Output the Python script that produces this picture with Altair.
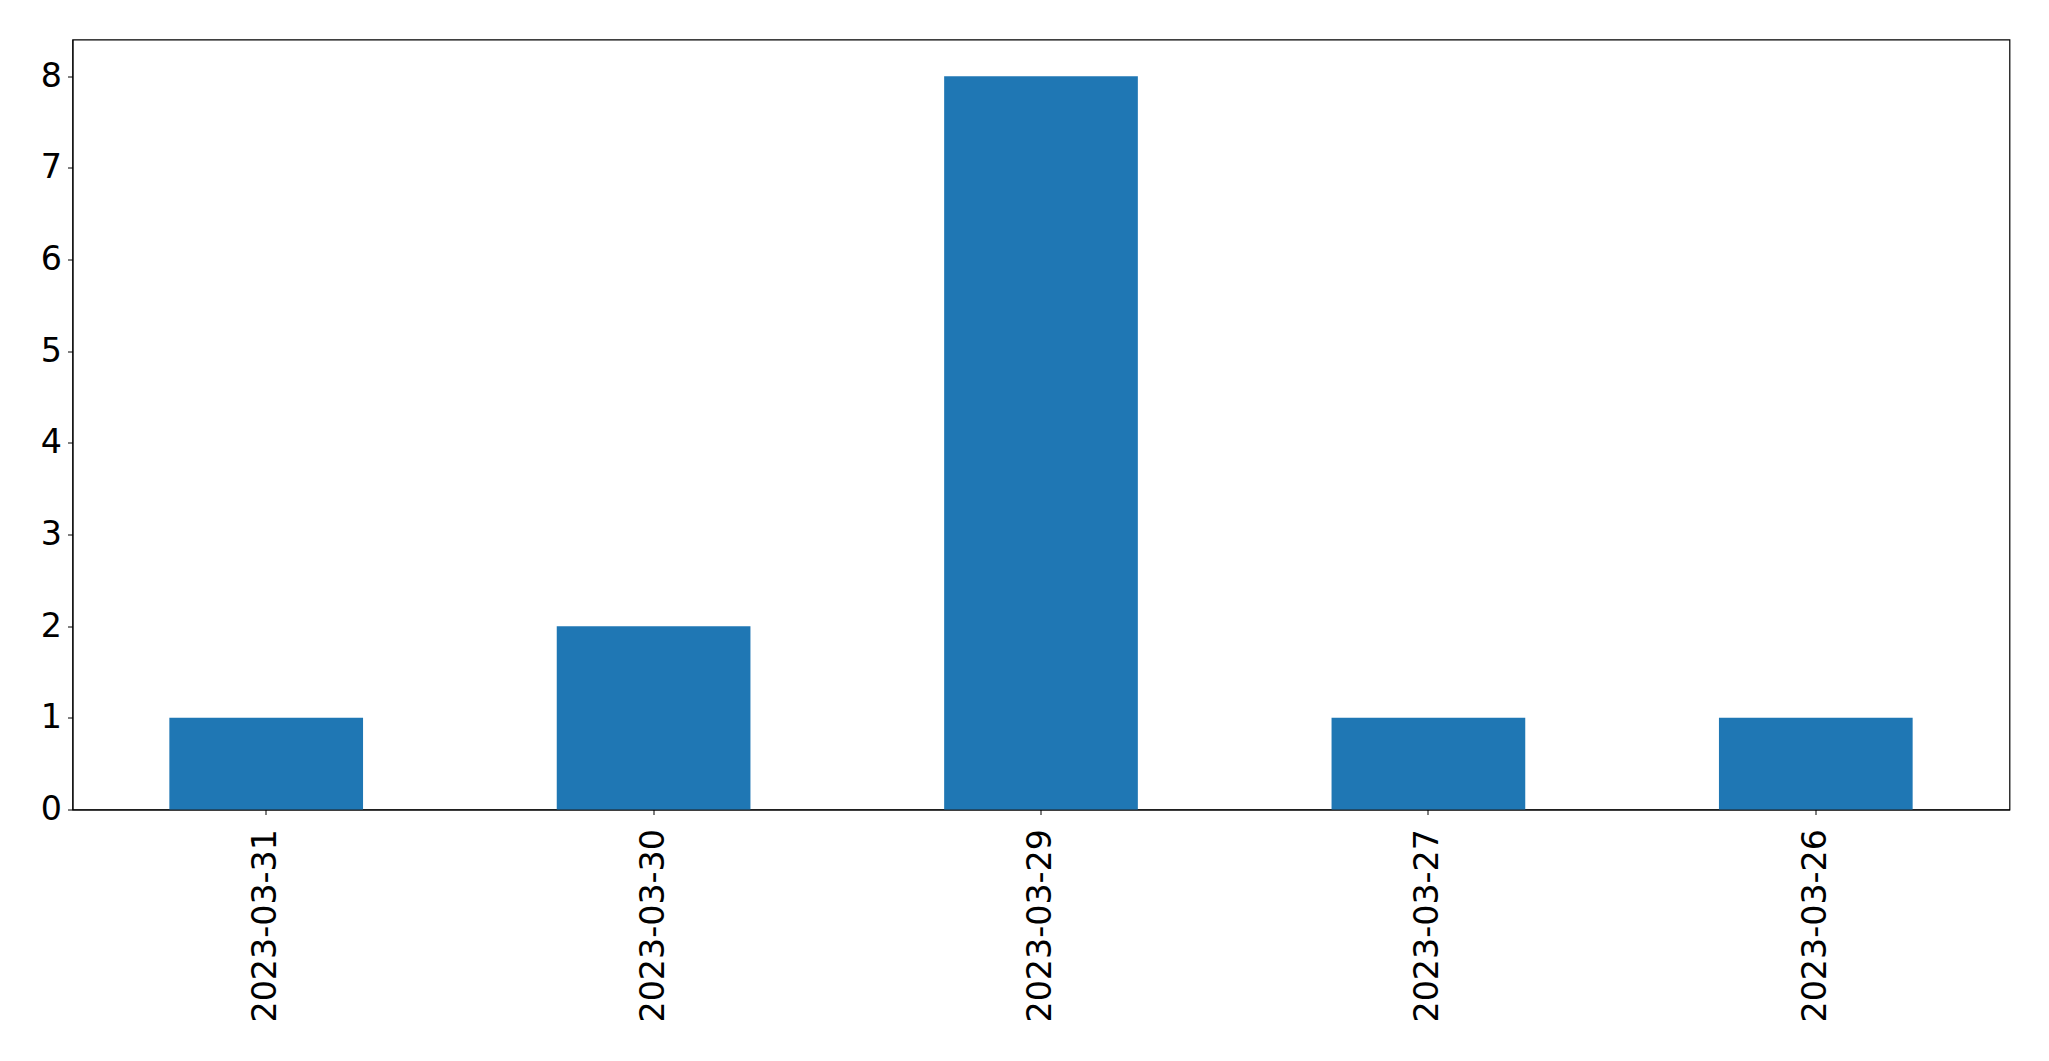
import altair as alt
import pandas as pd

dates = ["2023-03-31", "2023-03-30", "2023-03-29", "2023-03-27", "2023-03-26"]
counts = [1, 2, 8, 1, 1]

df = pd.DataFrame({"date": dates, "count": counts})

chart = alt.Chart(df).mark_bar(color="#1f77b4").encode(
    x=alt.X("date:N", sort=None, title=None,
            scale=alt.Scale(paddingInner=0.5, paddingOuter=0.25),
            axis=alt.Axis(labelAngle=270, labelAlign="right", labelBaseline="middle",
                          labelPadding=14, tickSize=5, labelFontSize=33.3, labelLimit=1000,
                          labelFont="DejaVu Sans", labelColor="black",
                          domainColor="black", tickColor="black", grid=False)),
    y=alt.Y("count:Q", title=None,
            scale=alt.Scale(domain=[0, 8.4], nice=False, zero=True),
            axis=alt.Axis(values=[0, 1, 2, 3, 4, 5, 6, 7, 8], tickSize=5, labelPadding=6,
                          labelFontSize=33.3, labelFont="DejaVu Sans", labelColor="black",
                          domainColor="black", tickColor="black", grid=False)),
).properties(
    width=1937, height=770,
    autosize=alt.AutoSizeParams(type="none"),
    padding={"left": 64.5, "top": 31.5, "right": 30, "bottom": 240},
    background="white",
).configure_view(stroke="black", strokeWidth=1.2)

chart.save("out.html", embed_options={"renderer": "svg", "actions": False})
